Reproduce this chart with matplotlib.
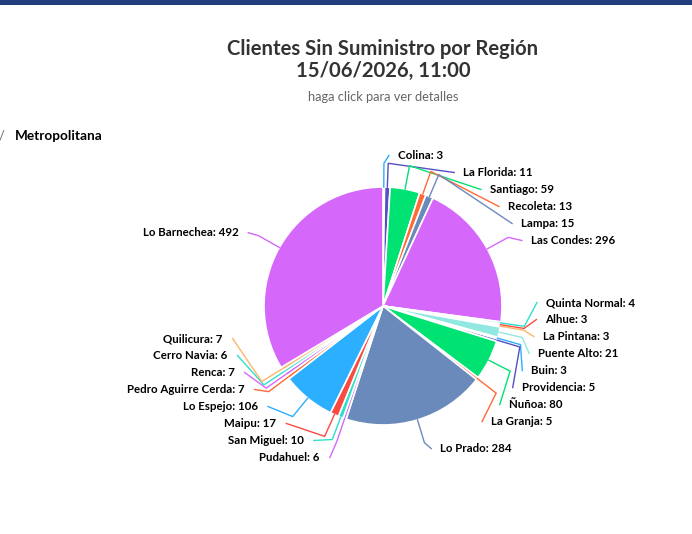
import numpy as np
import matplotlib.pyplot as plt

plt.rcParams['font.family'] = ['Lato', 'DejaVu Sans']

# data, in drawing order (clockwise from 12 o'clock)
comunas = ['Colina', 'La Florida', 'Santiago', 'Recoleta', 'Lampa', 'Las Condes',
           'Quinta Normal', 'Alhue', 'La Pintana', 'Puente Alto', 'Buin', 'Providencia',
           'Ñuñoa', 'La Granja', 'Lo Prado', 'Pudahuel', 'San Miguel', 'Maipu',
           'Lo Espejo', 'Pedro Aguirre Cerda', 'Renca', 'Cerro Navia', 'Quilicura',
           'Lo Barnechea']
clientes = [3, 11, 59, 13, 15, 296, 4, 3, 3, 21, 3, 5, 80, 5, 284, 6, 10, 17, 106,
            7, 7, 6, 7, 492]
colores = ['#2caffe', '#544fc5', '#00e272', '#fe6a35', '#6b8abc', '#d568fb',
           '#2ee0ca', '#fa4b42', '#feb56a', '#91e8e1', '#2caffe', '#544fc5',
           '#00e272', '#fe6a35', '#6b8abc', '#d568fb', '#2ee0ca', '#fa4b42',
           '#2caffe', '#fe6a35', '#d568fb', '#2ee0ca', '#feb56a', '#d568fb']

titulo = 'Clientes Sin Suministro por Región\n15/06/2026, 11:00'
subtitulo = 'haga click para ver detalles'
region = 'Metropolitana'

W, H = 692, 534
cx, cy, r = 383, 306, 119
label_dist = 30
conn_off = min(label_dist, r / 5.0)
box_h = 17
y_lo, y_hi = 147, 466


def distribute(targets, size, lo, hi):
    # highcharts-like: merge overlapping boxes, centre each group on its targets
    order = np.argsort(targets)
    boxes = [{'t': [targets[i]], 'idx': [i], 'size': size} for i in order]
    overlapping = True
    while overlapping:
        for b in boxes:
            t = (min(b['t']) + max(b['t'])) / 2.0
            b['pos'] = min(max(t - b['size'] / 2.0, lo), hi - b['size'])
        overlapping = False
        i = len(boxes) - 1
        while i > 0:
            a, b = boxes[i - 1], boxes[i]
            if a['pos'] + a['size'] > b['pos'] + 1e-9:
                a['size'] += b['size']
                a['t'] += b['t']
                a['idx'] += b['idx']
                if a['pos'] + a['size'] > hi:
                    a['pos'] = hi - a['size']
                boxes.pop(i)
                overlapping = True
            i -= 1
    out = {}
    for b in boxes:
        for k, i in enumerate(b['idx']):
            out[i] = b['pos'] + size * (k + 0.5)
    return out


def get_x(y, left):
    R = r + label_dist
    s = np.clip((y - cy) / R, -1, 1)
    return cx + (-1 if left else 1) * np.cos(np.arcsin(s)) * R


fig = plt.figure(figsize=(W / 100, H / 100), dpi=100)
ax = fig.add_axes([0, 0, 1, 1])

wedges, _ = ax.pie(clientes, colors=colores, center=(cx, cy), radius=r,
                   startangle=-90, counterclock=True,
                   wedgeprops=dict(edgecolor='white', linewidth=1.2))
ax.set_xlim(0, W)
ax.set_ylim(H, 0)
ax.set_aspect('auto')
ax.axis('off')

# label geometry
info = []
for w in wedges:
    mid = np.deg2rad((w.theta1 + w.theta2) / 2.0)
    ux, uy = np.cos(mid), np.sin(mid)
    info.append(dict(u=(ux, uy), left=ux < -1e-9,
                     nat=cy + (r + label_dist) * uy))

for left in (False, True):
    ids = [i for i, d in enumerate(info) if d['left'] == left]
    ys = distribute([info[i]['nat'] for i in ids], box_h, y_lo, y_hi)
    for k, i in enumerate(ids):
        info[i]['y'] = ys[k]

for i, d in enumerate(info):
    y = d['y']
    at_edge = (y - box_h / 2 <= y_lo + 1) or (y + box_h / 2 >= y_hi - 1)
    gx = get_x(d['nat'] if at_edge else y, d['left'])
    ux, uy = d['u']
    touch = (cx + r * ux, cy + r * uy)
    brk = (cx + (r + conn_off) * ux, cy + (r + conn_off) * uy)
    sgn = -1 if d['left'] else 1
    start = (gx + sgn * 5, y)
    ax.plot([start[0], brk[0], touch[0]], [start[1], brk[1], touch[1]],
            color=colores[i], lw=1, solid_joinstyle='miter', zorder=3)
    ax.text(gx + (-15 if d['left'] else 14), y,
            f'{comunas[i]}: {clientes[i]}',
            ha='right' if d['left'] else 'left', va='center',
            fontsize=8.3, fontweight='bold', color='black', zorder=4)

# header
ax.add_patch(plt.Rectangle((0, 0), W, 5, color='#213d7a', lw=0, zorder=5))
ax.text(383, 60, titulo, ha='center', va='center', fontsize=14.6,
        fontweight='bold', color='#333333', linespacing=1.1)
ax.text(383, 97, subtitulo, ha='center', va='center', fontsize=9.3,
        color='#666666')
ax.text(-1, 136, '/', ha='left', va='center', fontsize=9.3, color='#666666')
ax.text(15, 136, region, ha='left', va='center', fontsize=9.8,
        fontweight='bold', color='black')

fig.savefig('out.png', dpi=100, facecolor='white')
